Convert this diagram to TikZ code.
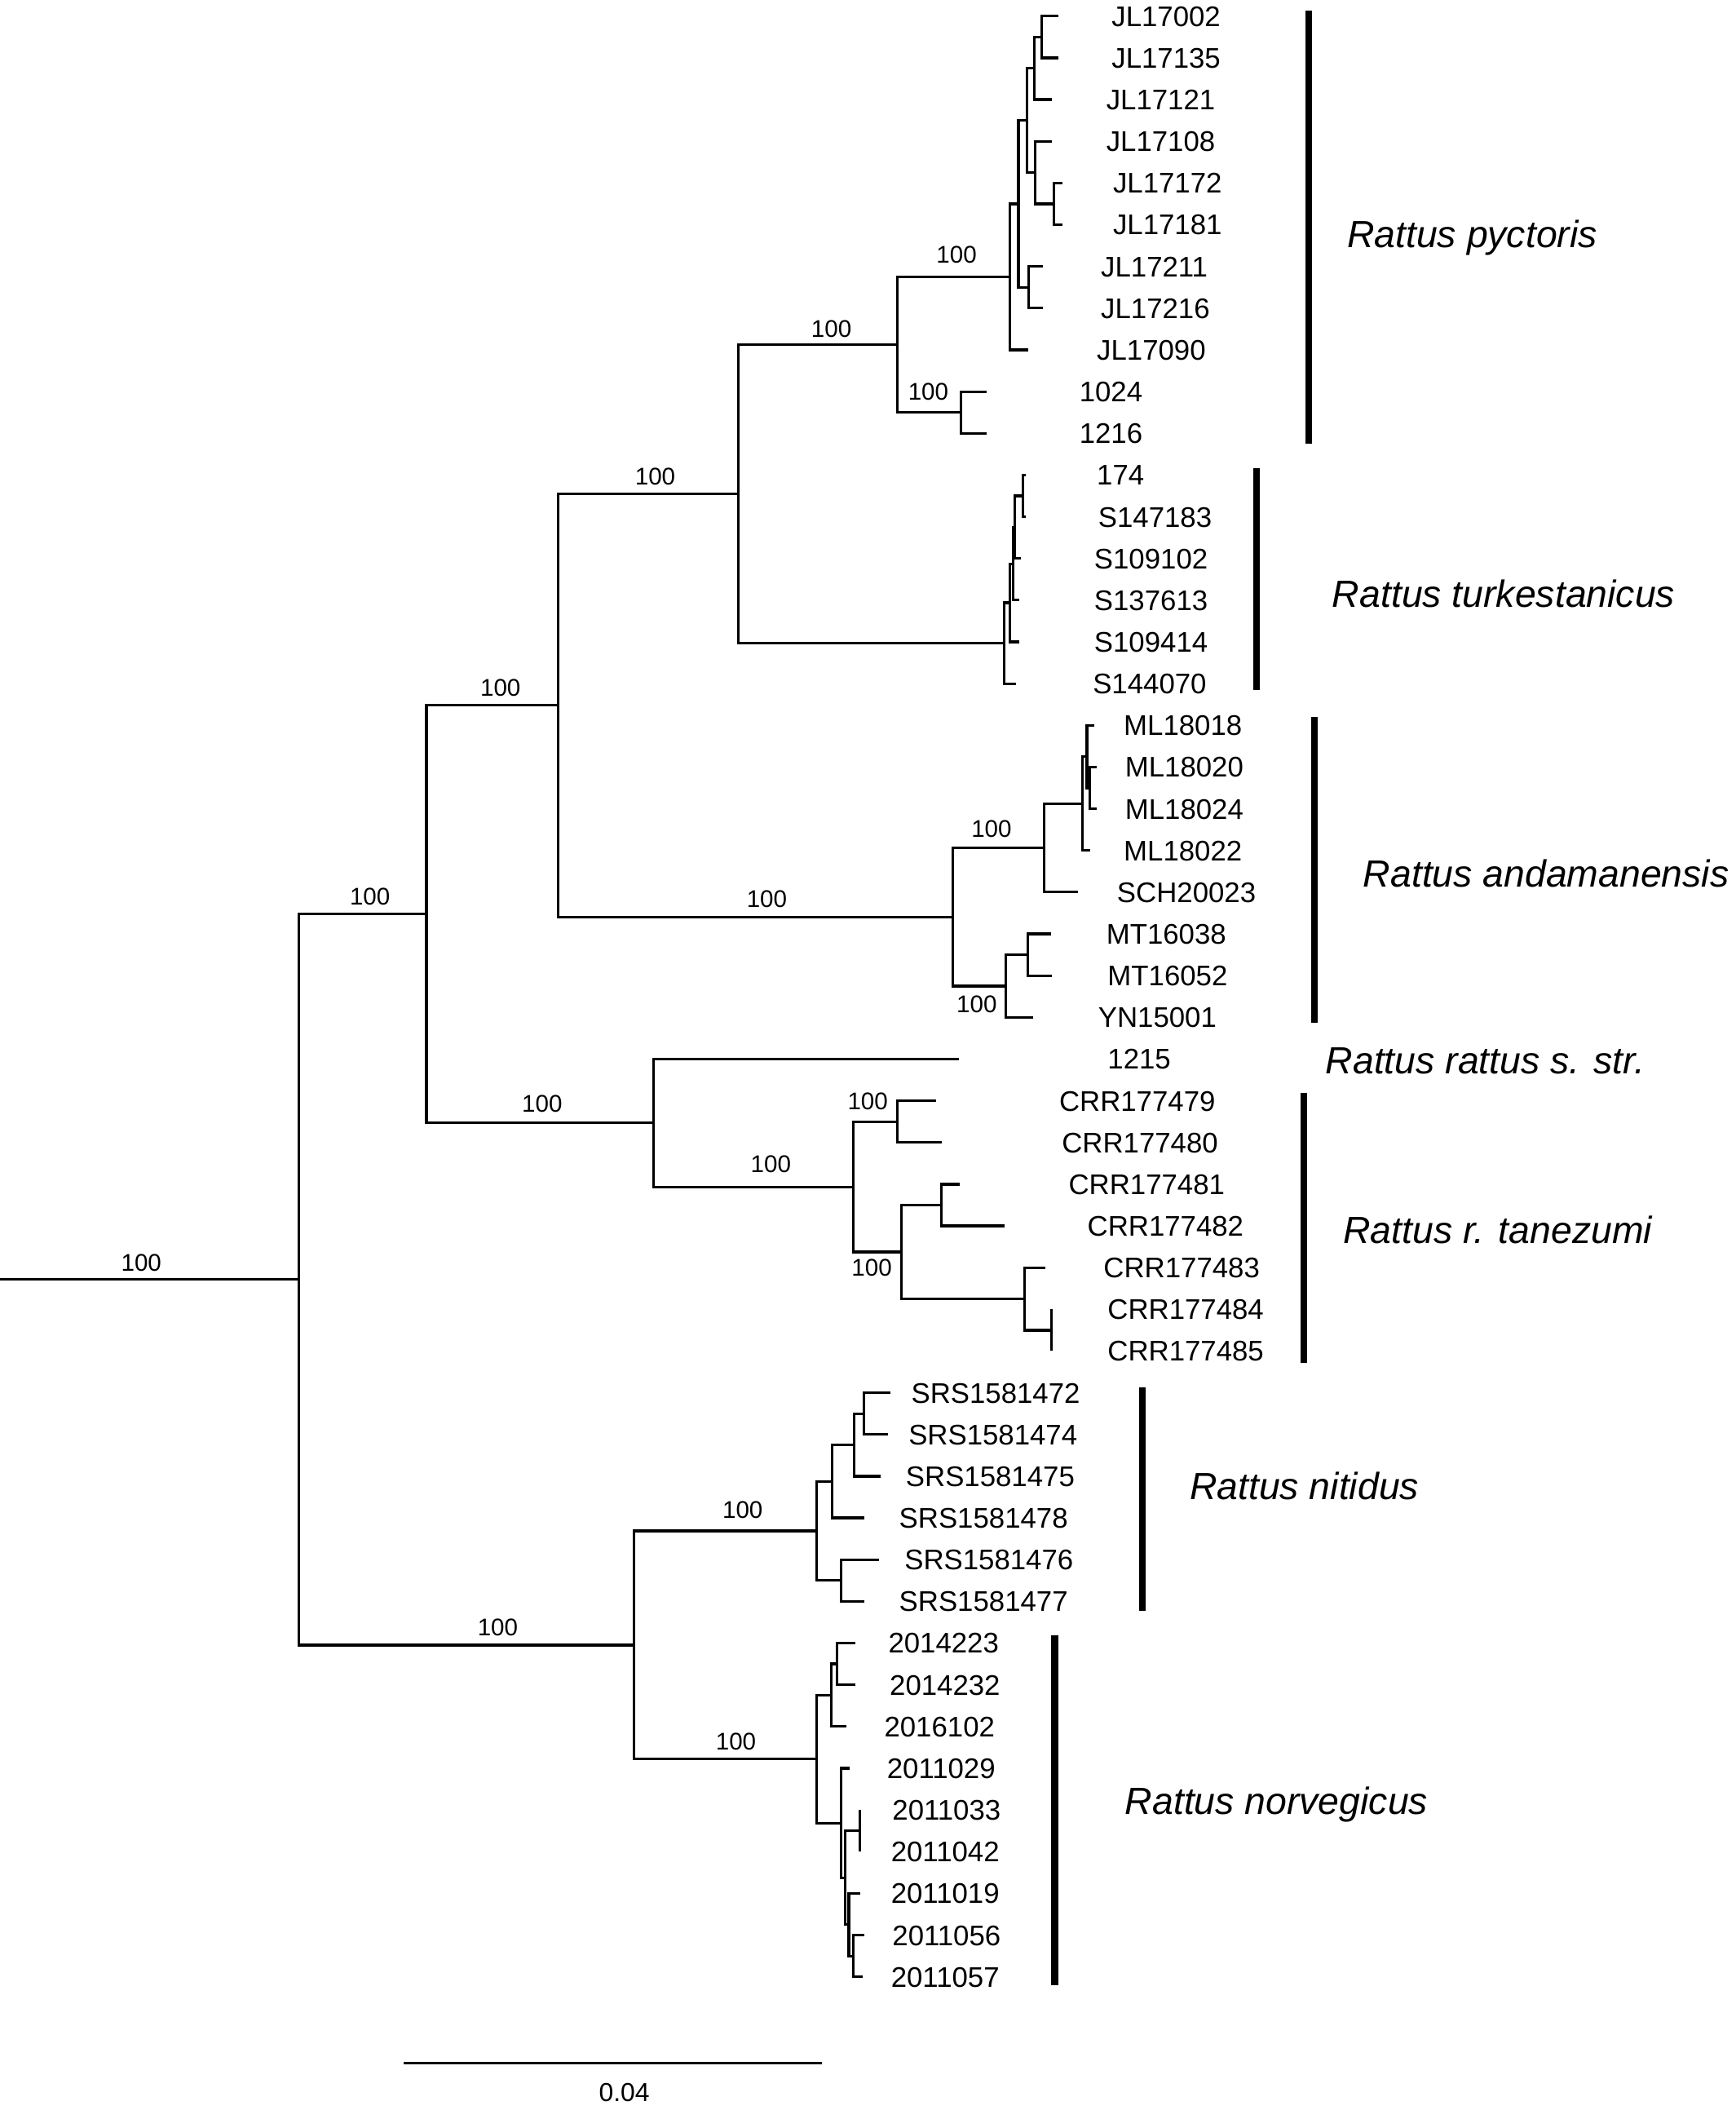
\documentclass[tikz,border=0pt]{standalone}
\usepackage{fontspec}
\setmainfont{Liberation Sans}
\tikzset{
    branch/.style = {line width=1.1pt, black},
    cladebar/.style = {line width=2.8pt, black},
    leaf/.style = {anchor=west, inner sep=0pt, font=\fontsize{12}{14}\selectfont, text height=8.6pt, text depth=0pt},
    boot/.style = {inner sep=0pt, font=\fontsize{10.2}{12}\selectfont, text height=7.3pt, text depth=0pt},
    taxon/.style = {anchor=west, inner sep=0pt, font=\fontsize{16}{19}\selectfont\itshape, text height=11.5pt, text depth=3.4pt}
}
\begin{document}
\begin{tikzpicture}[x=0.02cm, y=-0.02cm]
\useasboundingbox (0,0) rectangle (1290,1568);

% internal nodes
\coordinate (base) at (0,950.9);
\coordinate (root) at (222,950.9);
\coordinate (up) at (317,679.3);
\coordinate (down) at (471,1222.45);
\coordinate (pt) at (415,524.2);
\coordinate (rat) at (486,834.47);
\coordinate (pyt) at (549,367.05);
\coordinate (py) at (667,256.12);
\coordinate (jlA) at (750.6,205.75);
\coordinate (jlB) at (757,151.5);
\coordinate (jlC) at (763.4,89.5);
\coordinate (jlD) at (764.5,213.5);
\coordinate (jlE) at (768.7,50.75);
\coordinate (jlF) at (769.3,128.25);
\coordinate (jlG) at (774.4,27.5);
\coordinate (jlH) at (783.6,151.5);
\coordinate (pyB) at (714.3,306.5);
\coordinate (tuA) at (746.6,477.97);
\coordinate (tuB) at (750.7,447.94);
\coordinate (tuC) at (753.3,418.88);
\coordinate (tuD) at (754.3,391.75);
\coordinate (tuE) at (760.2,368.5);
\coordinate (anA) at (708.3,681.4);
\coordinate (anB) at (775.9,630.06);
\coordinate (anC) at (804.8,597.12);
\coordinate (anD) at (807.9,562.25);
\coordinate (anE) at (809.9,585.5);
\coordinate (anF) at (747.7,732.75);
\coordinate (anG) at (763.8,709.5);
\coordinate (tzA) at (634.5,881.94);
\coordinate (tzB) at (666.8,833.5);
\coordinate (tzC) at (669.9,930.38);
\coordinate (tzD) at (699.6,895.5);
\coordinate (tzE) at (761.8,965.25);
\coordinate (tzF) at (781.6,988.5);
\coordinate (niA) at (606.8,1137.69);
\coordinate (niB) at (618.3,1100.88);
\coordinate (niC) at (635.1,1073.75);
\coordinate (niD) at (642.2,1050.5);
\coordinate (niE) at (625,1174.5);
\coordinate (noA) at (606.8,1307.22);
\coordinate (noB) at (617.7,1259.75);
\coordinate (noC) at (622.4,1236.5);
\coordinate (noD) at (625.4,1354.69);
\coordinate (noE) at (628,1395.38);
\coordinate (noF) at (639,1360.5);
\coordinate (noG) at (630.9,1430.25);
\coordinate (noH) at (634.5,1453.5);

% tips
\coordinate (t0) at (787,12);
\coordinate (t1) at (787,43);
\coordinate (t2) at (781.7,74);
\coordinate (t3) at (781.7,105);
\coordinate (t4) at (790,136);
\coordinate (t5) at (790,167);
\coordinate (t6) at (775.5,198);
\coordinate (t7) at (775.5,229);
\coordinate (t8) at (764,260);
\coordinate (t9) at (733.5,291);
\coordinate (t10) at (733.5,322);
\coordinate (t11) at (762.7,353);
\coordinate (t12) at (762.7,384);
\coordinate (t13) at (758.6,415);
\coordinate (t14) at (757.7,446);
\coordinate (t15) at (757.7,477);
\coordinate (t16) at (755,508);
\coordinate (t17) at (813.3,539);
\coordinate (t18) at (815.3,570);
\coordinate (t19) at (815.3,601);
\coordinate (t20) at (810.3,632);
\coordinate (t21) at (801.2,663);
\coordinate (t22) at (781,694);
\coordinate (t23) at (782,725);
\coordinate (t24) at (767.9,756);
\coordinate (t25) at (713,787);
\coordinate (t26) at (696.1,818);
\coordinate (t27) at (700.2,849);
\coordinate (t28) at (713.3,880);
\coordinate (t29) at (746.6,911);
\coordinate (t30) at (777,942);
\coordinate (t31) at (781.6,973);
\coordinate (t32) at (781.6,1004);
\coordinate (t33) at (661.8,1035);
\coordinate (t34) at (659.8,1066);
\coordinate (t35) at (654.7,1097);
\coordinate (t36) at (642.2,1128);
\coordinate (t37) at (653.3,1159);
\coordinate (t38) at (642.6,1190);
\coordinate (t39) at (635.5,1221);
\coordinate (t40) at (636,1252);
\coordinate (t41) at (629.4,1283);
\coordinate (t42) at (631.5,1314);
\coordinate (t43) at (639,1345);
\coordinate (t44) at (639,1376);
\coordinate (t45) at (639.5,1407);
\coordinate (t46) at (642.2,1438);
\coordinate (t47) at (641.2,1469);

% branches
\draw[branch] (base) -- (root);
\draw[branch] (root) |- (up) (root) |- (down);
\draw[branch] (up) |- (pt) (up) |- (rat);
\draw[branch] (pt) |- (pyt) (pt) |- (anA);
\draw[branch] (pyt) |- (py) (pyt) |- (tuA);
\draw[branch] (py) |- (jlA) (py) |- (pyB);
\draw[branch] (jlA) |- (jlB) (jlA) |- (t8);
\draw[branch] (jlB) |- (jlC) (jlB) |- (jlD);
\draw[branch] (jlC) |- (jlE) (jlC) |- (jlF);
\draw[branch] (jlE) |- (jlG) (jlE) |- (t2);
\draw[branch] (jlG) |- (t0) (jlG) |- (t1);
\draw[branch] (jlF) |- (t3) (jlF) |- (jlH);
\draw[branch] (jlH) |- (t4) (jlH) |- (t5);
\draw[branch] (jlD) |- (t6) (jlD) |- (t7);
\draw[branch] (pyB) |- (t9) (pyB) |- (t10);
\draw[branch] (tuA) |- (tuB) (tuA) |- (t16);
\draw[branch] (tuB) |- (tuC) (tuB) |- (t15);
\draw[branch] (tuC) |- (tuD) (tuC) |- (t14);
\draw[branch] (tuD) |- (tuE) (tuD) |- (t13);
\draw[branch] (tuE) |- (t11) (tuE) |- (t12);
\draw[branch] (anA) |- (anB) (anA) |- (anF);
\draw[branch] (anB) |- (anC) (anB) |- (t21);
\draw[branch] (anC) |- (anD) (anC) |- (t20);
\draw[branch] (anD) |- (t17) (anD) |- (anE);
\draw[branch] (anE) |- (t18) (anE) |- (t19);
\draw[branch] (anF) |- (anG) (anF) |- (t24);
\draw[branch] (anG) |- (t22) (anG) |- (t23);
\draw[branch] (rat) |- (t25) (rat) |- (tzA);
\draw[branch] (tzA) |- (tzB) (tzA) |- (tzC);
\draw[branch] (tzB) |- (t26) (tzB) |- (t27);
\draw[branch] (tzC) |- (tzD) (tzC) |- (tzE);
\draw[branch] (tzD) |- (t28) (tzD) |- (t29);
\draw[branch] (tzE) |- (t30) (tzE) |- (tzF);
\draw[branch] (tzF) |- (t31) (tzF) |- (t32);
\draw[branch] (down) |- (niA) (down) |- (noA);
\draw[branch] (niA) |- (niB) (niA) |- (niE);
\draw[branch] (niB) |- (niC) (niB) |- (t36);
\draw[branch] (niC) |- (niD) (niC) |- (t35);
\draw[branch] (niD) |- (t33) (niD) |- (t34);
\draw[branch] (niE) |- (t37) (niE) |- (t38);
\draw[branch] (noA) |- (noB) (noA) |- (noD);
\draw[branch] (noB) |- (noC) (noB) |- (t41);
\draw[branch] (noC) |- (t39) (noC) |- (t40);
\draw[branch] (noD) |- (t42) (noD) |- (noE);
\draw[branch] (noE) |- (noF) (noE) |- (noG);
\draw[branch] (noF) |- (t43) (noF) |- (t44);
\draw[branch] (noG) |- (t45) (noG) |- (noH);
\draw[branch] (noH) |- (t46) (noH) |- (t47);

% bootstrap values
\node[boot] (b0) at (105,938) {100};
\node[boot] (b1) at (275,666) {100};
\node[boot] (b2) at (370,1209) {100};
\node[boot] (b3) at (372,511) {100};
\node[boot] (b4) at (403,820) {100};
\node[boot] (b5) at (487,354) {100};
\node[boot] (b6) at (570,668) {100};
\node[boot] (b7) at (618,244) {100};
\node[boot] (b8) at (711,189) {100};
\node[boot] (b9) at (690,291) {100};
\node[boot] (b10) at (737,616) {100};
\node[boot] (b11) at (726,746) {100};
\node[boot] (b12) at (573,865) {100};
\node[boot] (b13) at (645,818) {100};
\node[boot] (b14) at (648,942) {100};
\node[boot] (b15) at (552,1122) {100};
\node[boot] (b16) at (547,1294) {100};

% leaf labels
\node[leaf] (JL17002) at (826,12) {JL17002};
\node[leaf] (JL17135) at (826,43) {JL17135};
\node[leaf] (JL17121) at (822,74) {JL17121};
\node[leaf] (JL17108) at (822,105) {JL17108};
\node[leaf] (JL17172) at (827,136) {JL17172};
\node[leaf] (JL17181) at (827,167) {JL17181};
\node[leaf] (JL17211) at (818,198) {JL17211};
\node[leaf] (JL17216) at (818,229) {JL17216};
\node[leaf] (JL17090) at (815,260) {JL17090};
\node[leaf] (s1024) at (802,291) {1024};
\node[leaf] (s1216) at (802,322) {1216};
\node[leaf] (s174) at (815,353) {174};
\node[leaf] (S147183) at (816,384) {S147183};
\node[leaf] (S109102) at (813,415) {S109102};
\node[leaf] (S137613) at (813,446) {S137613};
\node[leaf] (S109414) at (813,477) {S109414};
\node[leaf] (S144070) at (812,508) {S144070};
\node[leaf] (ML18018) at (835,539) {ML18018};
\node[leaf] (ML18020) at (836,570) {ML18020};
\node[leaf] (ML18024) at (836,601) {ML18024};
\node[leaf] (ML18022) at (835,632) {ML18022};
\node[leaf] (SCH20023) at (830,663) {SCH20023};
\node[leaf] (MT16038) at (822,694) {MT16038};
\node[leaf] (MT16052) at (823,725) {MT16052};
\node[leaf] (YN15001) at (816,756) {YN15001};
\node[leaf] (s1215) at (823,787) {1215};
\node[leaf] (CRR177479) at (787,818) {CRR177479};
\node[leaf] (CRR177480) at (789,849) {CRR177480};
\node[leaf] (CRR177481) at (794,880) {CRR177481};
\node[leaf] (CRR177482) at (808,911) {CRR177482};
\node[leaf] (CRR177483) at (820,942) {CRR177483};
\node[leaf] (CRR177484) at (823,973) {CRR177484};
\node[leaf] (CRR177485) at (823,1004) {CRR177485};
\node[leaf] (SRS1581472) at (677,1035) {SRS1581472};
\node[leaf] (SRS1581474) at (675,1066) {SRS1581474};
\node[leaf] (SRS1581475) at (673,1097) {SRS1581475};
\node[leaf] (SRS1581478) at (668,1128) {SRS1581478};
\node[leaf] (SRS1581476) at (672,1159) {SRS1581476};
\node[leaf] (SRS1581477) at (668,1190) {SRS1581477};
\node[leaf] (s2014223) at (660,1221) {2014223};
\node[leaf] (s2014232) at (661,1252) {2014232};
\node[leaf] (s2016102) at (657,1283) {2016102};
\node[leaf] (s2011029) at (659,1314) {2011029};
\node[leaf] (s2011033) at (663,1345) {2011033};
\node[leaf] (s2011042) at (662,1376) {2011042};
\node[leaf] (s2011019) at (662,1407) {2011019};
\node[leaf] (s2011056) at (663,1438) {2011056};
\node[leaf] (s2011057) at (662,1469) {2011057};

% clade bars and names
\coordinate (pyTop) at (973,8);
\coordinate (pyBot) at (973,330);
\coordinate (tuTop) at (934,348);
\coordinate (tuBot) at (934,513);
\coordinate (anTop) at (977,533);
\coordinate (anBot) at (977,760);
\coordinate (tzTop) at (969,812);
\coordinate (tzBot) at (969,1013);
\coordinate (niTop) at (849,1031);
\coordinate (niBot) at (849,1197);
\coordinate (noTop) at (784,1215);
\coordinate (noBot) at (784,1475);
\draw[cladebar] (pyTop) -- (pyBot);
\draw[cladebar] (tuTop) -- (tuBot);
\draw[cladebar] (anTop) -- (anBot);
\draw[cladebar] (tzTop) -- (tzBot);
\draw[cladebar] (niTop) -- (niBot);
\draw[cladebar] (noTop) -- (noBot);
\node[taxon] (pyctoris) at (1001,177) {Rattus pyctoris};
\node[taxon] (turkestanicus) at (990,444) {Rattus turkestanicus};
\node[taxon] (andamanensis) at (1013,652) {Rattus andamanensis};
\node[taxon] (rattus) at (985,791) {Rattus rattus s. str.};
\node[taxon] (tanezumi) at (998,917) {Rattus r. tanezumi};
\node[taxon] (nitidus) at (884,1107) {Rattus nitidus};
\node[taxon] (norvegicus) at (836,1341) {Rattus norvegicus};

% scale bar
\coordinate (sbL) at (300,1533);
\coordinate (sbR) at (611,1533);
\draw[branch] (sbL) -- (sbR);
\node[boot, font=\fontsize{11}{13}\selectfont] (sbText) at (464,1555) {0.04};
\end{tikzpicture}
\end{document}
